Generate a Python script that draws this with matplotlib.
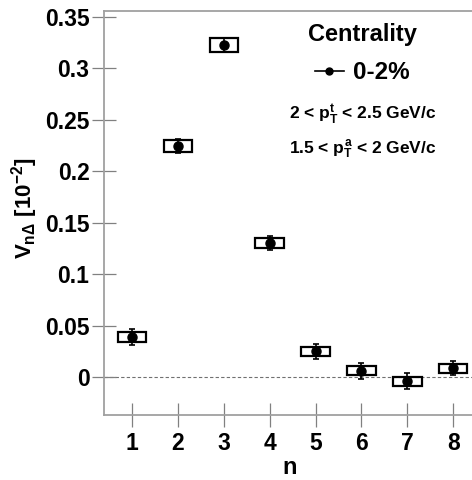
import matplotlib
matplotlib.use("Agg")
from matplotlib import pyplot as plt
import numpy as np

plt.rcParams['font.family'] = ['Liberation Sans', 'DejaVu Sans']
plt.rcParams['font.weight'] = 'bold'
plt.rcParams['mathtext.fontset'] = 'custom'
plt.rcParams['mathtext.rm'] = 'Liberation Sans:bold'
plt.rcParams['mathtext.it'] = 'Liberation Sans:bold'
plt.rcParams['mathtext.bf'] = 'Liberation Sans:bold'

# data
n = np.array([1, 2, 3, 4, 5, 6, 7, 8])
vn = np.array([0.039, 0.2245, 0.323, 0.130, 0.025, 0.006, -0.004, 0.0085])
stat = np.array([0.0075, 0.007, 0.007, 0.007, 0.0075, 0.0075, 0.0075, 0.007])
syst = np.array([0.0045, 0.006, 0.0068, 0.005, 0.0045, 0.0045, 0.0045, 0.0045])
yticks = [0, 0.05, 0.1, 0.15, 0.2, 0.25, 0.3, 0.35]
yticklabels = ['0', '0.05', '0.1', '0.15', '0.2', '0.25', '0.3', '0.35']

fig = plt.figure(figsize=(4.72, 4.8), dpi=100)
ax = fig.add_axes([104/472, 65/480, 368/472, 404/480])

ax.axhline(0, color='#707070', lw=0.8, ls=(0, (3, 2)), zorder=1)

# systematic boxes
ax.bar(n, 2*syst, bottom=vn - syst, width=0.62, fill=False,
       edgecolor='k', linewidth=1.6, zorder=2)
ax.errorbar(n, vn, yerr=stat, fmt='o', color='k', ms=6.5, elinewidth=1.2,
            capsize=2.5, capthick=1.2, zorder=3)

ax.set_xlim(0.39, 8.41)
ax.set_ylim(-0.0369, 0.3558)
ax.set_xticks(n)
ax.set_yticks(yticks)
ax.set_yticklabels(yticklabels)

for s in ['left', 'bottom', 'top']:
    ax.spines[s].set_color('#a0a0a0')
    ax.spines[s].set_linewidth(1.3)
ax.spines['right'].set_visible(False)
ax.tick_params(axis='both', direction='inout', length=17, width=0.9,
               color='#808080', labelsize=16.5, pad=2)
ax.tick_params(axis='x', pad=4)

fig.text(25/472, 1 - 208/480, r'$V_{n\Delta}\ [10^{-2}]$', rotation=90,
         ha='center', va='center', fontsize=16)
fig.text(290/472, 1 - 467/480, 'n', ha='center', va='center', fontsize=17)

# legend
h, = ax.plot([], [], '-o', color='k', ms=5, lw=1.2)
leg = ax.legend([h], ['0-2%'], title='Centrality', frameon=False,
                loc='upper center', bbox_to_anchor=((362-104)/368, 0.995),
                fontsize=17.5, title_fontsize=17, handlelength=1.2,
                handletextpad=0.35, borderaxespad=0, labelspacing=0.3)
leg._legend_box.sep = 11
leg.get_title().set_fontweight('bold')

fig.text(363/472, 1 - 115/480, r'2 < $p_T^t$ < 2.5 GeV/c', ha='center',
         va='center', fontsize=12.5)
fig.text(363/472, 1 - 150/480, r'1.5 < $p_T^a$ < 2 GeV/c', ha='center',
         va='center', fontsize=12.5)

fig.savefig('out.png', dpi=100)
